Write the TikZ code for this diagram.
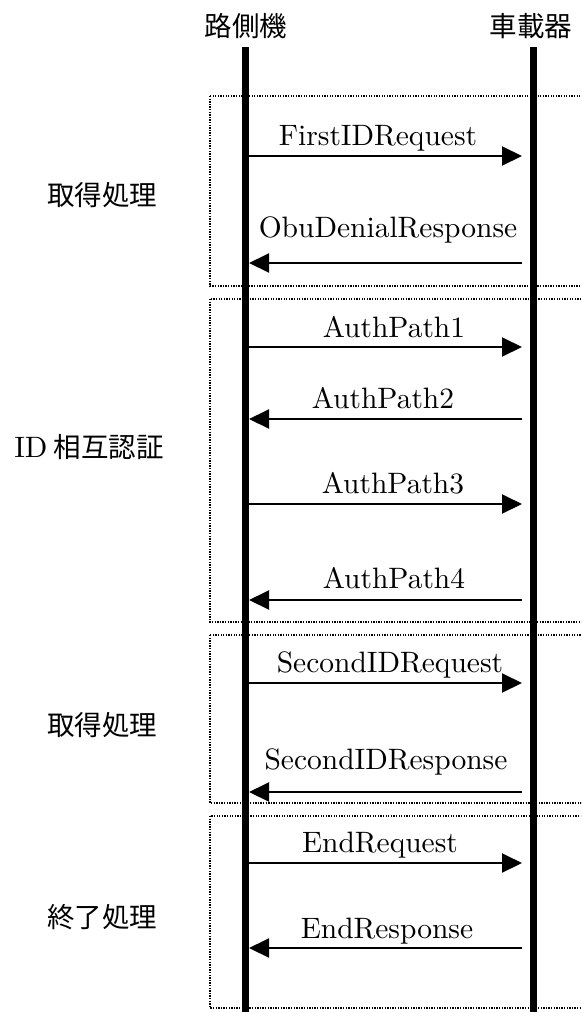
\documentclass[tikz,border=0pt]{standalone}
\usepackage{fontspec}
\setmainfont{lmroman10-regular.otf}
\newfontfamily\jafont{Noto Sans CJK JP}
\usetikzlibrary{arrows.meta}

\begin{document}
\begin{tikzpicture}
  [x=1pt,y=-1pt,auto=left]
      \tikzstyle{life_style} = [draw=black, line width=7pt]
      \tikzstyle{msg_style} = [draw=black, line width=2pt, -{Triangle[length=20pt,width=19pt]}]
      \tikzstyle{box_style} = [draw=black, line width=1.3pt, dash pattern=on 1.3pt off 1.3pt]
      \tikzstyle{msg_label} = [anchor=base, inner sep=0pt, font=\fontsize{29.5}{32}\selectfont]
      \tikzstyle{ja_label} = [inner sep=0pt, font=\fontsize{27.5}{30}\selectfont\jafont]
  \clip (0,0) rectangle (581,1012);
  % phase boxes
  \draw[box_style] (210,96) rectangle (590,286);
  \draw[box_style] (210,299) rectangle (590,622);
  \draw[box_style] (210,635) rectangle (590,803);
  \draw[box_style] (210,816) rectangle (590,1008);
  % phase names
  \node[ja_label] (p1) at (102,195) {取得処理};
  \node[ja_label] (p2) at (89,447) {{\fontsize{29.5}{32}\selectfont\rmfamily ID} 相互認証};
  \node[ja_label] (p3) at (102,725) {取得処理};
  \node[ja_label] (p4) at (102,917) {終了処理};
  % lifelines
  \node[ja_label] (rsu) at (246,26) {路側機};
  \node[ja_label] (obu) at (531,26) {車載器};
  \coordinate (rsu_top) at (245.5,47);
  \coordinate (rsu_bot) at (245.5,1014);
  \coordinate (obu_top) at (533.5,47);
  \coordinate (obu_bot) at (533.5,1014);
  \draw[life_style] (rsu_top) -- (rsu_bot);
  \draw[life_style] (obu_top) -- (obu_bot);
  % message ends
  \coordinate (r1) at (249,156);  \coordinate (o1) at (522,156);
  \coordinate (r2) at (249,263);  \coordinate (o2) at (522,263);
  \coordinate (r3) at (249,347);  \coordinate (o3) at (522,347);
  \coordinate (r4) at (249,419);  \coordinate (o4) at (522,419);
  \coordinate (r5) at (249,504);  \coordinate (o5) at (522,504);
  \coordinate (r6) at (249,600);  \coordinate (o6) at (522,600);
  \coordinate (r7) at (249,683);  \coordinate (o7) at (522,683);
  \coordinate (r8) at (249,792);  \coordinate (o8) at (522,792);
  \coordinate (r9) at (249,863);  \coordinate (o9) at (522,863);
  \coordinate (r10) at (249,948); \coordinate (o10) at (522,948);
  % messages
  \node[msg_label] (m1) at (378,145) {FirstIDRequest};
  \node[msg_label] (m2) at (388,237) {ObuDenialResponse};
  \node[msg_label] (m3) at (394,337) {AuthPath1};
  \node[msg_label] (m4) at (383,408) {AuthPath2};
  \node[msg_label] (m5) at (393,493) {AuthPath3};
  \node[msg_label] (m6) at (394,588) {AuthPath4};
  \node[msg_label] (m7) at (390,672) {SecondIDRequest};
  \node[msg_label] (m8) at (386,769) {SecondIDResponse};
  \node[msg_label] (m9) at (380,852) {EndRequest};
  \node[msg_label] (m10) at (387,938) {EndResponse};
  \draw[msg_style] (r1) -- (o1);
  \draw[msg_style] (o2) -- (r2);
  \draw[msg_style] (r3) -- (o3);
  \draw[msg_style] (o4) -- (r4);
  \draw[msg_style] (r5) -- (o5);
  \draw[msg_style] (o6) -- (r6);
  \draw[msg_style] (r7) -- (o7);
  \draw[msg_style] (o8) -- (r8);
  \draw[msg_style] (r9) -- (o9);
  \draw[msg_style] (o10) -- (r10);
\end{tikzpicture}
\end{document}
